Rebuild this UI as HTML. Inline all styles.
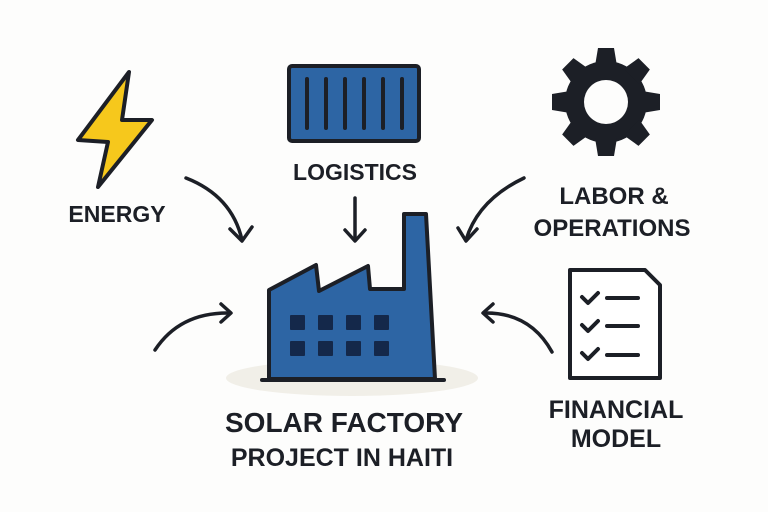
<!DOCTYPE html>
<html><head><style>
body{margin:0;width:768px;height:512px;background:#fdfdfc;overflow:hidden;}
svg{display:block}
text{font-family:"Liberation Sans",sans-serif;font-weight:bold;fill:#1c1f26;text-anchor:middle}
</style></head><body>
<svg width="768" height="512" viewBox="0 0 768 512">
<ellipse cx="352" cy="378" rx="126" ry="18" fill="#f1efe8"/>
<polygon points="129,72 78,140 108,142 98,187 152,120 122,120" fill="#f6c81c" stroke="#1c1f26" stroke-width="4" stroke-linejoin="round"/>
<text x="117" y="222" font-size="23">ENERGY</text>
<rect x="289" y="66" width="130" height="75" rx="3" fill="#2d65a4" stroke="#1c1f26" stroke-width="4"/>
<g stroke="#1c1f26" stroke-width="4" stroke-linecap="round">
<line x1="307" y1="79" x2="307" y2="128"/><line x1="326" y1="79" x2="326" y2="128"/><line x1="345" y1="79" x2="345" y2="128"/><line x1="364" y1="79" x2="364" y2="128"/><line x1="383" y1="79" x2="383" y2="128"/><line x1="402" y1="79" x2="402" y2="128"/>
</g>
<text x="355" y="180" font-size="23">LOGISTICS</text>
<g transform="translate(606,102)" fill="#1c1f26">
<circle r="41"/>
<g id="t"><path d="M-11,-36 L-8,-54 L8,-54 L11,-36 Z"/></g>
<use href="#t" transform="rotate(45)"/><use href="#t" transform="rotate(90)"/><use href="#t" transform="rotate(135)"/><use href="#t" transform="rotate(180)"/><use href="#t" transform="rotate(225)"/><use href="#t" transform="rotate(270)"/><use href="#t" transform="rotate(315)"/>
<circle r="22" fill="#fdfdfc"/>
</g>
<text x="614" y="204" font-size="24">LABOR &amp;</text>
<text x="612" y="236" font-size="24">OPERATIONS</text>
<path d="M570,270 L645,270 L660,285 L660,378 L570,378 Z" fill="#fff" stroke="#1c1f26" stroke-width="4" stroke-linejoin="round"/>
<g stroke="#1c1f26" stroke-width="4" fill="none" stroke-linecap="round" stroke-linejoin="round">
<path d="M582,297 l6,6 l10,-10"/><line x1="607" y1="298" x2="638" y2="298"/>
<path d="M582,325 l6,6 l10,-10"/><line x1="607" y1="326" x2="638" y2="326"/>
<path d="M582,353 l6,6 l10,-10"/><line x1="607" y1="355" x2="638" y2="355"/>
</g>
<text x="616" y="418" font-size="25">FINANCIAL</text>
<text x="616" y="447" font-size="25">MODEL</text>
<path d="M269,290 L316,265 L319,291 L368,266 L370,289 L404,289 L404,214 L426,214 L435,379 L269,379 Z" fill="#2d65a4" stroke="#1c1f26" stroke-width="4" stroke-linejoin="round"/>
<line x1="262" y1="380" x2="444" y2="380" stroke="#1c1f26" stroke-width="4" stroke-linecap="round"/>
<g fill="#14284a">
<rect x="290" y="315" width="15" height="15" rx="1"/><rect x="318" y="315" width="15" height="15" rx="1"/><rect x="346" y="315" width="15" height="15" rx="1"/><rect x="374" y="315" width="15" height="15" rx="1"/>
<rect x="290" y="341" width="15" height="15" rx="1"/><rect x="318" y="341" width="15" height="15" rx="1"/><rect x="346" y="341" width="15" height="15" rx="1"/><rect x="374" y="341" width="15" height="15" rx="1"/>
</g>
<text x="344" y="432" font-size="28">SOLAR FACTORY</text>
<text x="342" y="466" font-size="25">PROJECT IN HAITI</text>
<g stroke="#1c1f26" stroke-width="3.5" fill="none" stroke-linecap="round" stroke-linejoin="round">
<path d="M186,178 Q232,196 242,240"/><path d="M230,229 L242,241 L252,227"/>
<path d="M355,198 L355,240"/><path d="M345,230 L355,241 L365,230"/>
<path d="M524,178 Q478,200 466,240"/><path d="M458,228 L466,241 L477,229"/>
<path d="M155,350 Q180,312 230,313"/><path d="M221,304 L231,313 L221,322"/>
<path d="M552,352 Q530,312 484,313"/><path d="M493,304 L483,313 L493,322"/>
</g>
</svg>
</body></html>
